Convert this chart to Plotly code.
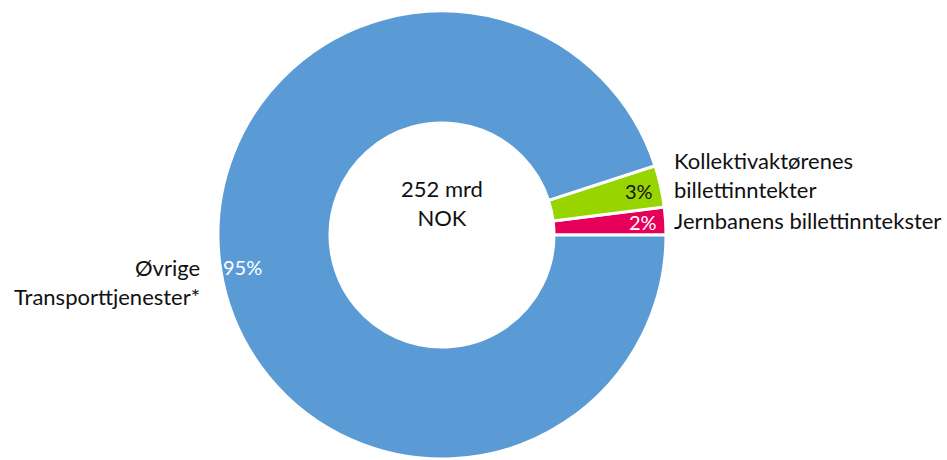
import math
import plotly.graph_objects as go

# Data
labels = ["Jernbanens billettinntekster", "Kollektivaktørenes billettinntekter", "Øvrige Transporttjenester*"]
values = [2, 3, 95]
pct_text = ["2%", "3%", "95%"]
center_text = ["252 mrd", "NOK"]

colors = ["#E6005A", "#97D400", "#5B9BD5"]
pct_colors = ["white", "#111111", "white"]

W, H = 947, 460
cx, cy, R = 442, 235, 224  # pixel layout of the donut

def px(x):
    return x / W

def py(y):
    return (H - y) / H

total = sum(values)
first_span = values[0] / total * 360

fig = go.Figure(go.Pie(
    labels=labels,
    values=values,
    sort=False,
    direction="counterclockwise",
    rotation=90 - first_span,
    hole=0.5,
    marker=dict(colors=colors, line=dict(color="white", width=3)),
    textinfo="none",
    hoverinfo="label+percent",
    domain=dict(x=[px(cx - R), px(cx + R)], y=[py(cy + R), py(cy - R)]),
    showlegend=False,
))

FONT = "Lato, Carlito, Calibri, sans-serif"
FS = 22
ann = []
# percentage labels at inside-end position of each slice
start = 0.0
for v, t, c in zip(values, pct_text, pct_colors):
    span = v / total * 360
    mid = math.radians(start + span / 2)
    start += span
    r = 0.9 * R
    x = cx + r * math.cos(mid)
    y = cy - r * math.sin(mid)
    ann.append(dict(x=px(x), y=py(y), xref="paper", yref="paper", text=t,
                    showarrow=False, font=dict(family=FONT, size=20, color=c),
                    xanchor="center", yanchor="middle"))

ann.append(dict(x=px(672), y=py(220), xref="paper", yref="paper", text=labels[0],
                showarrow=False, xanchor="left", yanchor="middle", align="left",
                font=dict(family=FONT, size=FS, color="#111111")))
ann.append(dict(x=px(672), y=py(175), xref="paper", yref="paper",
                text="Kollektivaktørenes<br>billettinntekter",
                showarrow=False, xanchor="left", yanchor="middle", align="left",
                font=dict(family=FONT, size=FS, color="#111111")))
ann.append(dict(x=px(202), y=py(282), xref="paper", yref="paper",
                text="Øvrige<br>Transporttjenester*",
                showarrow=False, xanchor="right", yanchor="middle", align="right",
                font=dict(family=FONT, size=FS, color="#111111")))
ann.append(dict(x=px(cx), y=py(203), xref="paper", yref="paper",
                text="<br>".join(center_text),
                showarrow=False, xanchor="center", yanchor="middle", align="center",
                font=dict(family=FONT, size=FS, color="#111111")))

fig.update_layout(
    width=W, height=H,
    margin=dict(l=0, r=0, t=0, b=0),
    paper_bgcolor="white",
    plot_bgcolor="white",
    annotations=ann,
)

fig.write_html("out.html")
